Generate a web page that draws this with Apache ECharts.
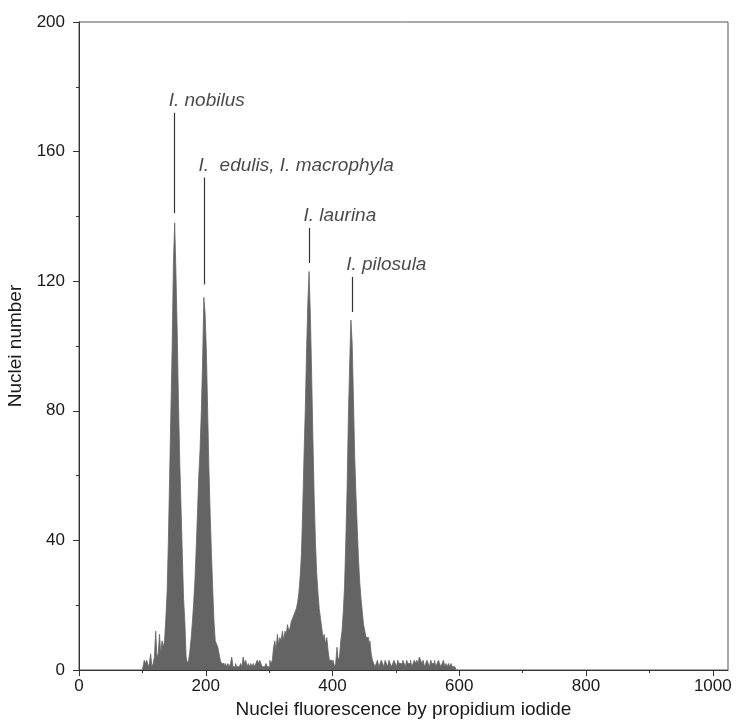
<!DOCTYPE html>
<html>
<head>
<meta charset="utf-8">
<script src="https://cdn.jsdelivr.net/npm/echarts@6/dist/echarts.min.js"></script>
<style>
html,body{margin:0;padding:0;background:#fff;}
#chart{width:736px;height:720px;}
</style>
</head>
<body>
<div id="chart"></div>
<script>
// Histogram bins: centre of first bin and bin width (fluorescence channels)
const binStart = 100;
const binWidth = 2;

// Nuclei counts per bin (x = 100 ... 598, step 2)
const counts100to198 = [0,0,3,2,3, 1,2,5,1,2, 4,12,4,5,11, 5,9,7,9,16,
  24,40,60,80,100, 126,138,122,104,82, 64,50,36,22,15, 4,2,3,6,10,
  15,21,28,38,49, 60,68,80,95,115];
const counts200to298 = [110,98,80,62,48, 36,25,15,9,8, 7,5,3,2,2, 1,2,1,2,1,
  2,4,1,1,2, 1,1,1,2,1, 4,2,3,1,2, 1,2,1,2,1,
  2,3,2,3,2, 1,1,1,2,1];
const counts300to398 = [1,3,2,3,7, 9,6,11,8,10, 9,12,9,12,11, 14,12,13,15,16,
  17,18,19,21,24, 29,36,50,66,80, 98,113,123,110,92, 72,54,40,30,24,
  19,16,13,10,11, 8,10,6,3,3];
const counts400to498 = [2,3,1,2,7, 3,4,9,12,18, 26,40,56,78,94, 108,101,84,66,54,
  44,34,27,22,18, 14,12,10,10,8, 9,5,3,2,1, 2,3,1,2,3,
  2,1,3,2,1, 3,2,1,2,3];
const counts500to598 = [2,1,3,2,2, 1,3,2,1,3, 2,2,3,1,2, 3,2,3,2,4,
  3,2,3,1,2, 3,2,1,3,2, 2,3,1,2,3, 2,1,2,3,1,
  2,1,2,1,2, 1,1,1,0,0];

// Axis ticks
const xMajorTicks = [0, 200, 400, 600, 800, 1000];
const xMinorTicks = [100, 300, 500, 700, 900];
const yMin = 0, yMax = 200, yStep = 40;
const xMin = 0, xMax = 1024;

// Species annotations: name, peak channel, marker line bottom/top (nuclei number)
const speciesNames = ['I. nobilus', 'I.  edulis, I. macrophyla', 'I. laurina', 'I. pilosula'];
const speciesChannel = [151, 198, 363.5, 431];
const markerBottom = [141, 119, 125.6, 110.5];
const markerTop = [172, 152, 136.4, 121.3];

const allCounts = [].concat(counts100to198, counts200to298, counts300to398, counts400to498, counts500to598);
const histData = allCounts.map((c, i) => [binStart + i * binWidth, c]);

const markLines = speciesChannel.map((x, i) => [
  { coord: [x, markerBottom[i]] },
  { coord: [x, markerTop[i]] }
]);
const labelData = speciesChannel.map((x, i) => ({ value: [x, markerTop[i]], name: speciesNames[i] }));

const FONT = '"Liberation Sans", Arial, sans-serif';
const chart = echarts.init(document.getElementById('chart'), null, { renderer: 'canvas' });
chart.setOption({
  animation: false,
  backgroundColor: '#ffffff',
  grid: {
    left: 79, top: 22, right: 8, bottom: 50,
    outerBoundsMode: 'none',
    containLabel: false,
    show: true, borderColor: '#555', borderWidth: 1, backgroundColor: 'transparent'
  },
  xAxis: [
    {
      type: 'value', min: xMin, max: xMax,
      name: 'Nuclei fluorescence by propidium iodide',
      nameLocation: 'middle', nameGap: 29,
      nameTextStyle: { fontFamily: FONT, fontSize: 19, color: '#1a1a1a' },
      axisLine: { show: true, onZero: false, lineStyle: { color: '#333', width: 1 } },
      axisTick: { show: true, length: 6, customValues: xMajorTicks, lineStyle: { color: '#333' } },
      axisLabel: { customValues: xMajorTicks, formatter: v => String(v), margin: 8, fontFamily: FONT, fontSize: 17, color: '#1a1a1a' },
      splitLine: { show: false }
    },
    {
      type: 'value', min: xMin, max: xMax, position: 'bottom',
      axisLine: { show: false },
      axisTick: { show: true, length: 3, customValues: xMinorTicks, lineStyle: { color: '#333' } },
      axisLabel: { show: false },
      splitLine: { show: false }
    }
  ],
  yAxis: {
    type: 'value', min: yMin, max: yMax, interval: yStep,
    name: 'Nuclei number', nameLocation: 'middle', nameGap: 49,
    nameTextStyle: { fontFamily: FONT, fontSize: 19, color: '#1a1a1a' },
    axisLine: { show: true, lineStyle: { color: '#333', width: 1 } },
    axisTick: { show: true, length: 6, lineStyle: { color: '#333' } },
    minorTick: { show: true, splitNumber: 2, length: 3, lineStyle: { color: '#333' } },
    axisLabel: { margin: 14, fontFamily: FONT, fontSize: 17, color: '#1a1a1a' },
    splitLine: { show: false },
    minorSplitLine: { show: false }
  },
  series: [
    {
      type: 'line',
      xAxisIndex: 0,
      data: histData,
      step: 'middle',
      symbol: 'none',
      lineStyle: { color: '#646464', width: 0.8 },
      areaStyle: { color: '#646464', opacity: 1 },
      silent: true,
      markLine: {
        silent: true,
        symbol: ['none', 'none'],
        label: { show: false },
        lineStyle: { color: '#333', width: 1.2, type: 'solid' },
        data: markLines
      }
    },
    {
      type: 'scatter',
      xAxisIndex: 0,
      data: labelData,
      symbolSize: 0,
      silent: true,
      label: {
        show: true,
        formatter: p => p.name,
        position: [-6, -12],
        align: 'left',
        verticalAlign: 'middle',
        fontFamily: FONT,
        fontStyle: 'italic',
        fontSize: 19,
        color: '#1a1a1a'
      }
    }
  ]
});
</script>
</body>
</html>
